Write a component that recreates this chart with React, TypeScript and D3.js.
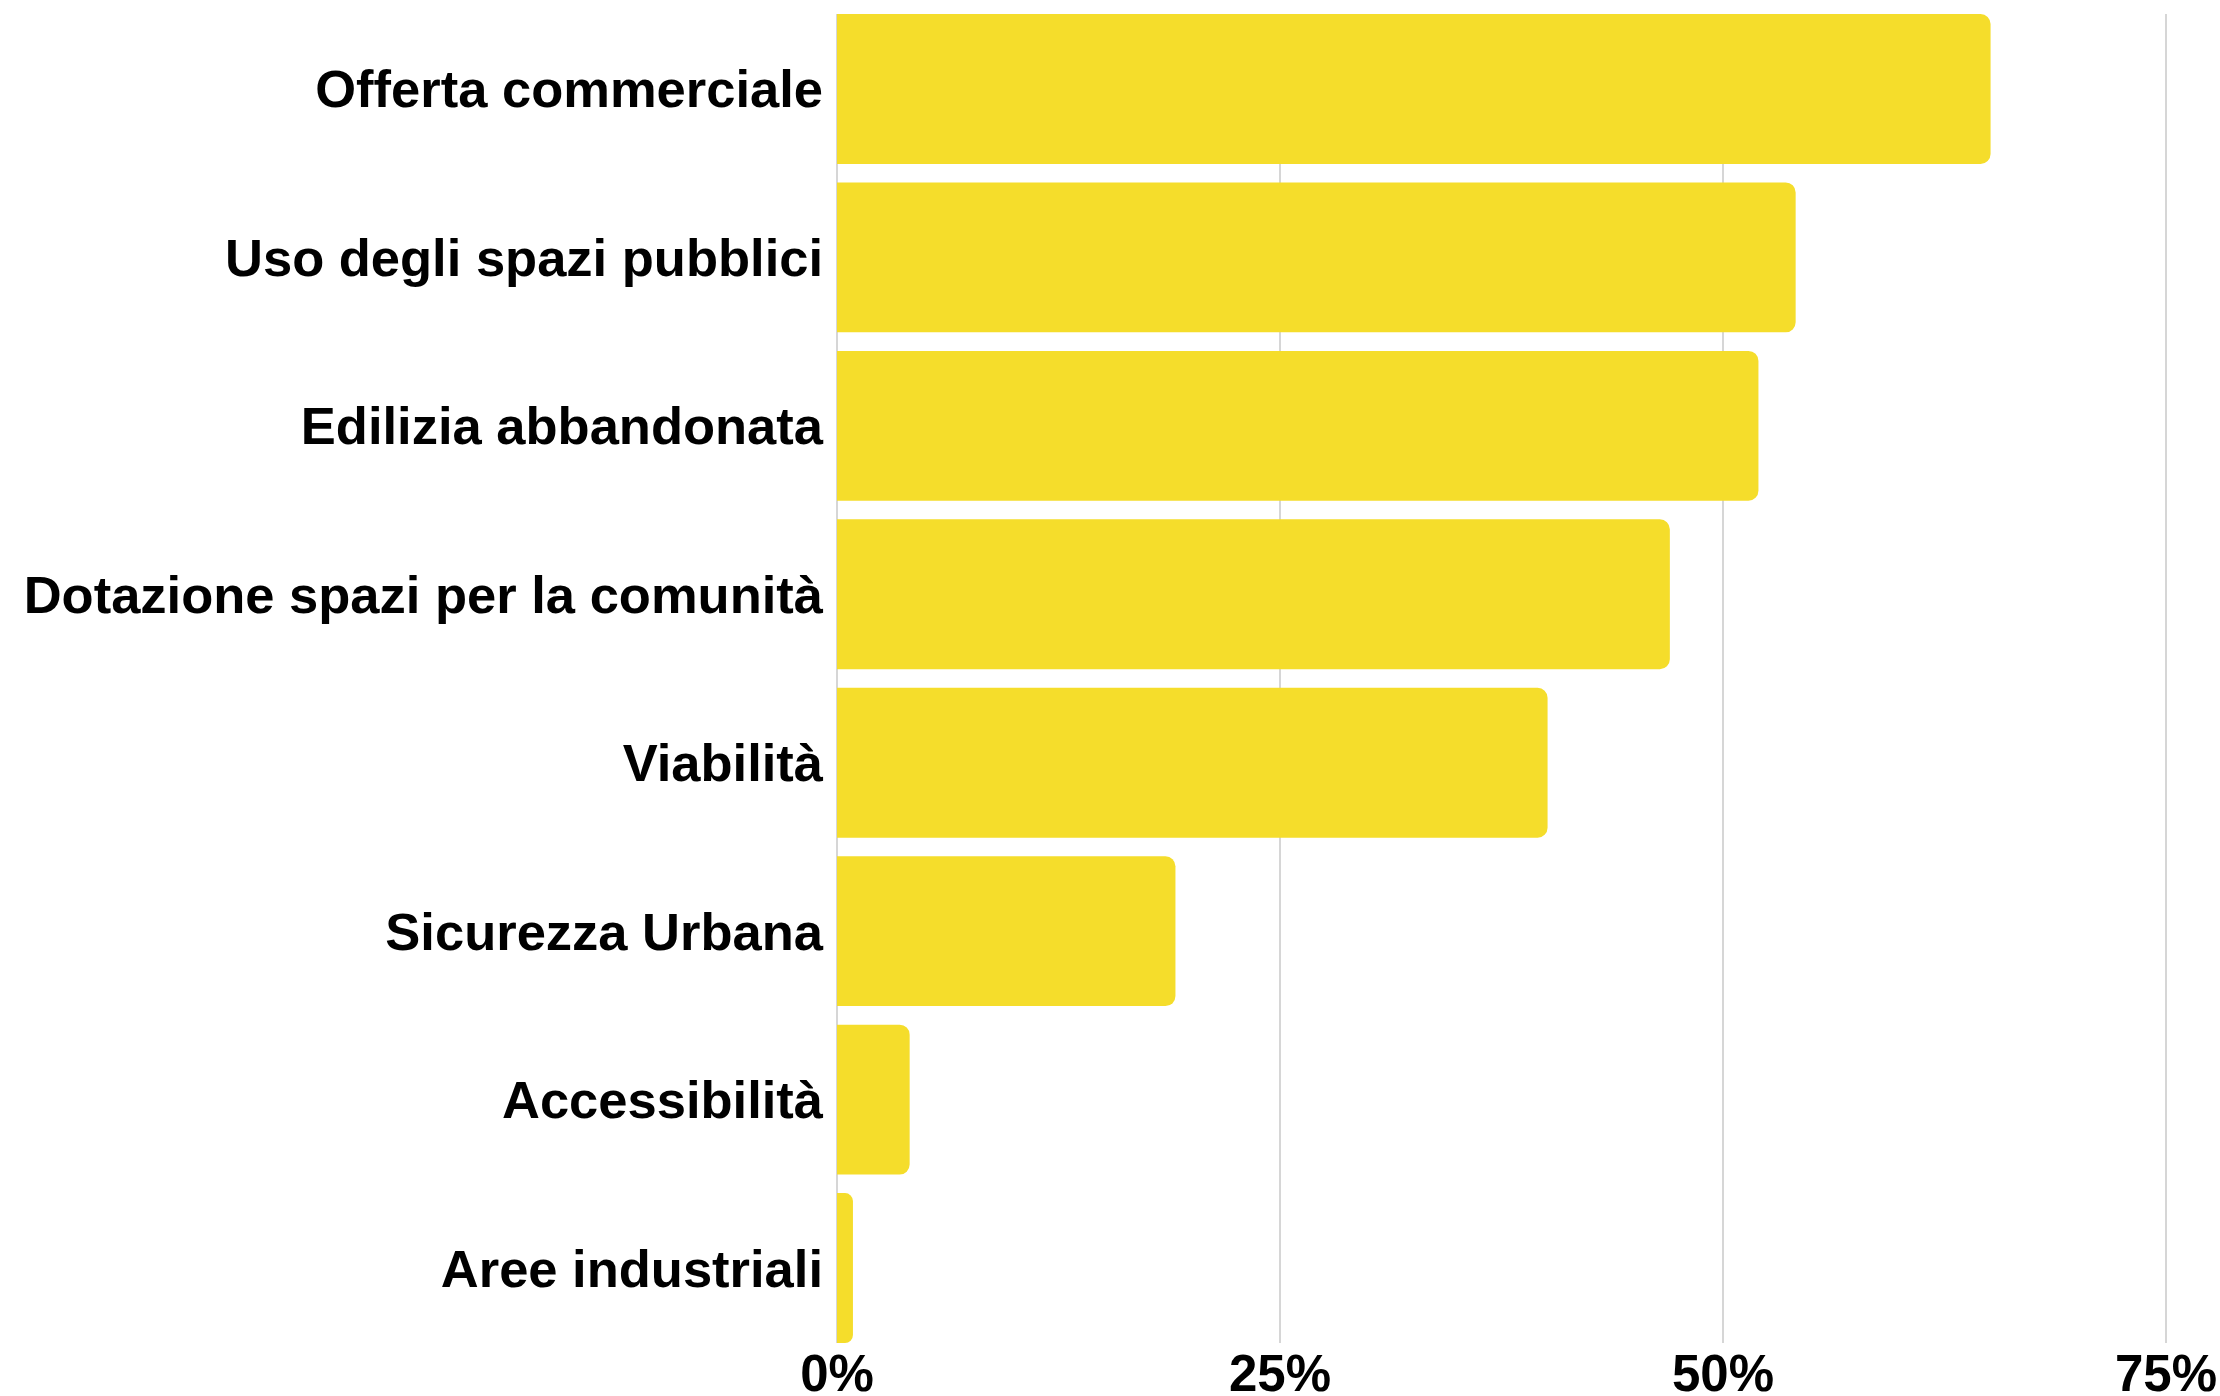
import React from "react";
import * as d3 from "d3";

const categories = [
  "Offerta commerciale",
  "Uso degli spazi pubblici",
  "Edilizia abbandonata",
  "Dotazione spazi per la comunità",
  "Viabilità",
  "Sicurezza Urbana",
  "Accessibilità",
  "Aree industriali",
];
const values = [65.1, 54.1, 52, 47, 40.1, 19.1, 4.1, 0.9];
const ticks = [0, 25, 50, 75];

const W = 2220;
const H = 1396;
const FONT = "'Liberation Sans', Arial, sans-serif";

function barPath(x0: number, y0: number, w: number, h: number, r: number) {
  const rr = Math.min(r, w / 2, h / 2);
  const p = d3.path();
  p.moveTo(x0, y0);
  p.lineTo(x0 + w - rr, y0);
  p.arcTo(x0 + w, y0, x0 + w, y0 + rr, rr);
  p.lineTo(x0 + w, y0 + h - rr);
  p.arcTo(x0 + w, y0 + h, x0 + w - rr, y0 + h, rr);
  p.lineTo(x0, y0 + h);
  p.closePath();
  return p.toString();
}

export default function App() {
  const x = d3.scaleLinear().domain([0, 75]).range([837, 2166]);
  const y = d3
    .scaleBand<string>()
    .domain(categories)
    .range([14, 1343])
    .paddingInner(0.11)
    .paddingOuter(0);
  const bw = y.bandwidth();
  return (
    <svg
      width={W}
      height={H}
      style={{ position: "absolute", left: 0, top: 0, background: "#fff" }}
    >
      <g>
        {ticks.map((t) => (
          <line
            key={t}
            x1={x(t)}
            x2={x(t)}
            y1={14}
            y2={1343}
            stroke="#c8c8c8"
            strokeWidth={1.5}
          />
        ))}
      </g>
      <g>
        {categories.map((c, i) => (
          <path
            key={c}
            d={barPath(x(0), y(c)!, x(values[i]) - x(0), bw, 10)}
            fill="#f5dd2b"
          />
        ))}
      </g>
      <g
        fontFamily={FONT}
        fontWeight="bold"
        fontSize={52.5}
        fill="#000"
        textAnchor="end"
      >
        {categories.map((c) => (
          <text key={c} x={x(0) - 14} y={y(c)! + bw / 2 + 18.5}>
            {c}
          </text>
        ))}
      </g>
      <g
        fontFamily={FONT}
        fontWeight="bold"
        fontSize={51}
        fill="#000"
        textAnchor="middle"
      >
        {ticks.map((t) => (
          <text key={t} x={x(t)} y={1391}>
            {t}%
          </text>
        ))}
      </g>
    </svg>
  );
}
